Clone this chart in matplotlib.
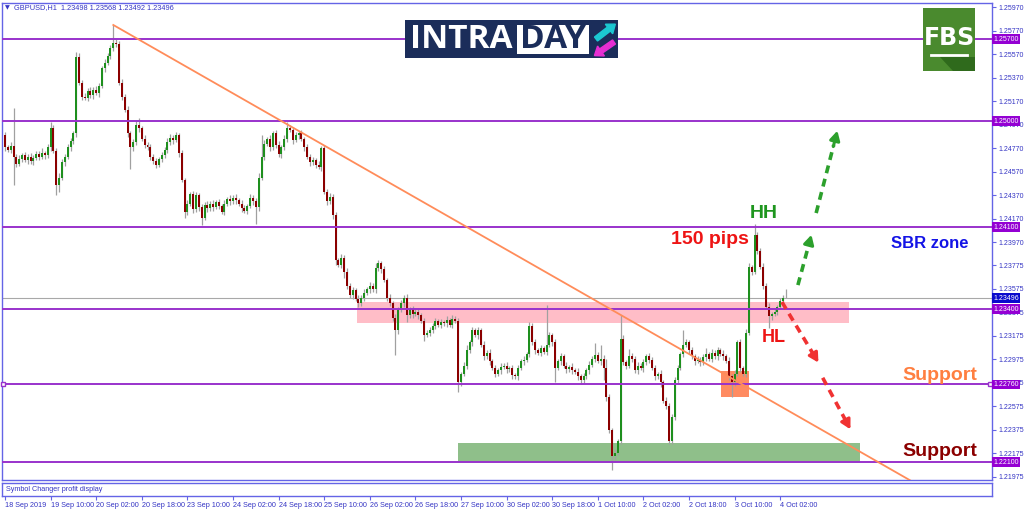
import matplotlib
matplotlib.use("Agg")
import matplotlib.pyplot as plt
import matplotlib.transforms as mtransforms
from matplotlib.patches import Rectangle, FancyArrow
import numpy as np

# GBPUSD H1 candles, 18 Sep 18:00 .. 4 Oct 04:00
first_open = 1.2488
closes = [
    1.2478, 1.2476, 1.2479, 1.2470, 1.2464, 1.2468, 1.2471, 1.2467, 1.2470, 1.2466, 1.2469, 1.2472, 1.2470,
    1.2473, 1.2471, 1.2478, 1.2494, 1.2475, 1.2446, 1.2452, 1.2465, 1.2470, 1.2478, 1.2483, 1.2490,
    1.2555, 1.2533, 1.2521, 1.2520, 1.2526, 1.2522, 1.2527, 1.2524, 1.2530, 1.2545, 1.2550, 1.2556, 1.2562,
    1.2567, 1.2566, 1.2533, 1.2521, 1.2510, 1.2490, 1.2478, 1.2482, 1.2497, 1.2494, 1.2485, 1.2480,
    1.2478, 1.2470, 1.2466, 1.2463, 1.2468, 1.2471, 1.2476, 1.2482, 1.2486, 1.2484, 1.2488, 1.2473, 1.2450,
    1.2423, 1.2430, 1.2438, 1.2425, 1.2437, 1.2427, 1.2418, 1.2429, 1.2426, 1.2430, 1.2427, 1.2431,
    1.2428, 1.2423, 1.2430, 1.2434, 1.2432, 1.2435, 1.2433, 1.2430, 1.2426, 1.2424, 1.2428, 1.2435, 1.2432,
    1.2427, 1.2452, 1.2470, 1.2481, 1.2485, 1.2478, 1.2490, 1.2480, 1.2472, 1.2478, 1.2485, 1.2494,
    1.2493, 1.2484, 1.2488, 1.2490, 1.2485, 1.2478, 1.2470, 1.2465, 1.2467, 1.2463, 1.2461, 1.2477, 1.2440,
    1.2432, 1.2436, 1.2420, 1.2382, 1.2378, 1.2384, 1.2372, 1.2360, 1.2352, 1.2356, 1.2349, 1.2345,
    1.2350, 1.2354, 1.2357, 1.2360, 1.2357, 1.2375, 1.2379, 1.2374, 1.2365, 1.2350, 1.2345, 1.2333, 1.2322,
    1.2340, 1.2345, 1.2350, 1.2335, 1.2340, 1.2336, 1.2338, 1.2335, 1.2330, 1.2318, 1.2320, 1.2322,
    1.2326, 1.2330, 1.2327, 1.2329, 1.2328, 1.2331, 1.2327, 1.2332, 1.2330, 1.2278, 1.2285, 1.2292, 1.2305,
    1.2312, 1.2322, 1.2318, 1.2322, 1.2310, 1.2300, 1.2303, 1.2296, 1.2290, 1.2285, 1.2288, 1.2291,
    1.2292, 1.2289, 1.2290, 1.2284, 1.2283, 1.2290, 1.2296, 1.2297, 1.2302, 1.2326, 1.2312, 1.2305, 1.2303,
    1.2307, 1.2304, 1.2310, 1.2318, 1.2312, 1.2290, 1.2296, 1.2300, 1.2292, 1.2289, 1.2291, 1.2288,
    1.2287, 1.2283, 1.2280, 1.2283, 1.2288, 1.2293, 1.2298, 1.2301, 1.2296, 1.2298, 1.2290, 1.2265, 1.2237,
    1.2215, 1.2218, 1.2228, 1.2315, 1.2295, 1.2292, 1.2300, 1.2298, 1.2288, 1.2292, 1.2290, 1.2295,
    1.2300, 1.2297, 1.2290, 1.2283, 1.2285, 1.2278, 1.2262, 1.2258, 1.2228, 1.2248, 1.2280, 1.2290, 1.2302,
    1.2310, 1.2312, 1.2305, 1.2300, 1.2296, 1.2297, 1.2295, 1.2299, 1.2302, 1.2298, 1.2303, 1.2300,
    1.2305, 1.2302, 1.2300, 1.2296, 1.2283, 1.2278, 1.2285, 1.2312, 1.2290, 1.2285, 1.2320, 1.2376, 1.2372,
    1.2403, 1.2390, 1.2376, 1.2360, 1.2342, 1.2334, 1.2336, 1.2338, 1.2342, 1.2347, 1.2350, 1.23496,
]
# wick lengths above / below the body, in pips
up_wick = [
    3, 2, 3, 32, 2, 3, 2, 3, 2, 3, 2, 3, 3, 4, 2, 3, 5, 3, 2, 4, 3, 2, 3, 3, 2,
    4, 3, 2, 3, 2, 3, 2, 3, 3, 2, 3, 2, 3, 15, 3, 2, 3, 2, 3, 2, 3, 3, 6, 2, 3,
    2, 3, 2, 3, 2, 3, 2, 4, 3, 2, 3, 2, 3, 2, 3, 2, 3, 3, 2, 3, 2, 3, 2, 3, 2,
    3, 2, 3, 2, 3, 2, 3, 2, 3, 3, 2, 3, 2, 3, 4, 18, 3, 2, 3, 2, 3, 3, 2, 3, 5,
    3, 2, 3, 2, 3, 2, 3, 2, 3, 2, 3, 2, 3, 2, 3, 2, 3, 2, 3, 2, 3, 2, 3, 2, 3,
    2, 3, 2, 3, 2, 4, 3, 2, 3, 2, 3, 2, 3, 2, 3, 2, 3, 2, 3, 2, 3, 2, 3, 2, 3,
    2, 3, 2, 3, 2, 3, 2, 3, 2, 3, 2, 3, 5, 2, 3, 2, 3, 2, 3, 2, 3, 2, 3, 2, 3,
    2, 3, 2, 3, 2, 3, 2, 3, 2, 3, 2, 3, 2, 3, 2, 34, 3, 2, 3, 2, 3, 2, 3, 2, 3,
    2, 3, 2, 3, 2, 3, 2, 10, 3, 12, 3, 8, 3, 2, 3, 2, 20, 3, 2, 6, 3, 2, 3, 2, 3,
    2, 3, 2, 3, 2, 3, 2, 3, 2, 3, 2, 3, 2, 12, 3, 2, 3, 2, 3, 2, 3, 5, 2, 3, 2,
    3, 2, 3, 2, 3, 2, 3, 2, 3, 2, 3, 3, 2, 10, 3, 2, 3, 2, 3, 2, 3, 2, 3, 2, 7,
]
dn_wick = [
    3, 2, 3, 24, 3, 2, 3, 2, 3, 2, 3, 2, 3, 2, 3, 2, 3, 2, 9, 6, 2, 3, 2, 3, 2,
    3, 2, 3, 2, 3, 2, 3, 2, 3, 2, 3, 2, 3, 2, 3, 2, 3, 2, 3, 19, 3, 2, 3, 2, 3,
    2, 3, 2, 3, 2, 3, 2, 3, 2, 3, 2, 3, 2, 5, 3, 2, 3, 2, 3, 6, 2, 3, 2, 3, 2,
    3, 2, 3, 2, 3, 2, 3, 2, 3, 2, 3, 2, 3, 14, 3, 2, 3, 2, 3, 2, 3, 2, 3, 2, 3,
    2, 3, 2, 3, 2, 3, 2, 3, 2, 3, 2, 3, 2, 3, 2, 3, 4, 2, 3, 5, 3, 2, 3, 2, 3,
    2, 3, 2, 3, 2, 3, 2, 3, 2, 3, 2, 3, 21, 3, 2, 3, 6, 2, 3, 2, 3, 2, 5, 2, 3,
    2, 3, 2, 3, 2, 3, 2, 3, 2, 8, 3, 2, 3, 2, 3, 2, 3, 2, 3, 2, 3, 2, 3, 2, 3,
    2, 3, 2, 3, 2, 3, 2, 3, 2, 3, 2, 3, 2, 3, 2, 3, 2, 3, 12, 2, 3, 2, 3, 2, 3,
    2, 3, 4, 3, 2, 3, 2, 3, 2, 3, 10, 3, 2, 12, 3, 2, 3, 2, 3, 2, 3, 2, 3, 2, 3,
    2, 3, 2, 3, 2, 4, 2, 3, 3, 3, 2, 3, 2, 3, 2, 3, 2, 3, 2, 3, 2, 3, 2, 3, 2,
    3, 2, 3, 2, 3, 13, 3, 2, 3, 2, 3, 2, 3, 2, 3, 2, 3, 2, 10, 3, 2, 3, 2, 3, 0,
]

time_labels = ["18 Sep 2019", "19 Sep 10:00", "20 Sep 02:00", "20 Sep 18:00", "23 Sep 10:00",
               "24 Sep 02:00", "24 Sep 18:00", "25 Sep 10:00", "26 Sep 02:00", "26 Sep 18:00",
               "27 Sep 10:00", "30 Sep 02:00", "30 Sep 18:00", "1 Oct 10:00", "2 Oct 02:00",
               "2 Oct 18:00", "3 Oct 10:00", "4 Oct 02:00"]
time_step = 16

price_ticks = [1.25970, 1.25770, 1.25570, 1.25370, 1.25170, 1.24970, 1.24770, 1.24570, 1.24370,
               1.24170, 1.23970, 1.23775, 1.23575, 1.23375, 1.23175, 1.22975, 1.22775, 1.22575,
               1.22375, 1.22175, 1.21975]
levels = [1.25700, 1.25000, 1.24100, 1.23400, 1.22760, 1.22100]
last_price = 1.23496

trend_bars = [38, 346]
trend_prices = [1.2582, 1.2155]

sbr_zone = [123.5, 296.1, 1.23283, 1.23462]
support_zone = [159, 300, 1.22100, 1.22262]
pivot_box = [251.2, 261.1, 1.22653, 1.22874]

green_arrows = [[(278.2, 1.23606), (283.2, 1.24057)], [(284.6, 1.24219), (292.3, 1.24943)]]
red_arrows = [[(272.6, 1.23462), (285.9, 1.22926)], [(286.9, 1.22817), (297.1, 1.22357)]]

AXC = "#6464E6"
TXC = "#3434C4"
PURPLE = "#9932CC"

plt.rcParams["font.family"] = ["Liberation Sans", "DejaVu Sans"]

fig = plt.figure(figsize=(10.24, 5.11), dpi=100)
W, H = 1024, 511
ax = fig.add_axes([2 / W, 1 - 480 / H, 990 / W, 477 / H])
sub = fig.add_axes([2 / W, 1 - 496 / H, 990 / W, 13 / H], sharex=ax)

n = len(closes)
x = np.arange(n)
c = np.array(closes)
o = np.array([first_open] + closes[:-1])
hi = np.maximum(o, c) + np.array(up_wick) * 1e-4
lo = np.minimum(o, c) - np.array(dn_wick) * 1e-4

# zones behind the candles
for z, col, a in [(sbr_zone, "#FFB6C1", 0.9), (support_zone, "#8FBF8A", 1.0), (pivot_box, "#FF7F50", 0.9)]:
    ax.add_patch(Rectangle((z[0], z[2]), z[1] - z[0], z[3] - z[2], fc=col, ec="none", alpha=a, zorder=1))

ax.vlines(x, lo, hi, color="#A0A0A0", lw=0.9, zorder=2)
up = c >= o
body_h = np.maximum(np.abs(c - o), 0.00004)
ax.bar(x[up], body_h[up], bottom=np.minimum(o, c)[up], width=0.7, color="#1E8F1E", zorder=3)
ax.bar(x[~up], body_h[~up], bottom=np.minimum(o, c)[~up], width=0.7, color="#8B0000", zorder=3)

ax.axhline(last_price, color="#A8A8A8", lw=0.8, zorder=2)
for lv in levels:
    ax.axhline(lv, color=PURPLE, lw=1.4, zorder=4)
ax.plot([-0.6, 345.6], [levels[4], levels[4]], ls="none", marker="s", ms=3, mfc="white", mec=PURPLE, zorder=5, clip_on=False)

ax.plot(trend_bars, trend_prices, color="#FF8C5A", lw=1.3, zorder=4)


def dashed_arrow(p0, p1, color):
    (x0, y0), (x1, y1) = p0, p1
    ax.plot([x0, x0 + (x1 - x0) * 0.8], [y0, y0 + (y1 - y0) * 0.8], color=color, lw=2.6,
            ls=(0, (2.2, 1.6)), zorder=6, solid_capstyle="butt")
    ax.annotate("", xy=(x1, y1), xytext=(x0 + (x1 - x0) * 0.75, y0 + (y1 - y0) * 0.75),
                arrowprops=dict(arrowstyle="-|>,head_width=0.3,head_length=0.55", color=color, lw=2.2),
                zorder=6)


for p0, p1 in green_arrows:
    dashed_arrow(p0, p1, "#2CA02C")
for p0, p1 in red_arrows:
    dashed_arrow(p0, p1, "#F03232")

ax.set_xlim(-1.05, 346.3)
ax.set_ylim(1.21947, 1.26007)

for a in (ax, sub):
    for s in a.spines.values():
        s.set_color(AXC)
        s.set_linewidth(1)
ax.set_yticks(price_ticks)
ax.set_yticklabels(["%.5f" % p for p in price_ticks])
ax.yaxis.tick_right()
ax.tick_params(axis="y", colors=AXC, labelcolor=TXC, labelsize=5.0, length=3, width=0.8, pad=1.5)
ax.tick_params(axis="x", bottom=False, labelbottom=False)

# price labels on the right scale
trans = mtransforms.blended_transform_factory(ax.transAxes, ax.transData)
for lv in levels:
    ax.text(1.001, lv, "%.5f" % lv, transform=trans, ha="left", va="center", fontsize=5.0, color="white",
            bbox=dict(boxstyle="square,pad=0.2", fc="#9400D3", ec="none"), zorder=10, clip_on=False)
ax.text(1.001, last_price, "%.5f" % last_price, transform=trans, ha="left", va="center", fontsize=5.0,
        color="white", bbox=dict(boxstyle="square,pad=0.2", fc="#0A0ACD", ec="none"), zorder=10, clip_on=False)

sub.set_yticks([])
sub.set_xticks(np.arange(len(time_labels)) * time_step)
sub.set_xticklabels(time_labels, ha="left")
sub.tick_params(axis="x", colors=AXC, labelcolor=TXC, labelsize=5.2, length=3, width=0.8, pad=1.5)
sub.text(0.004, 0.5, "Symbol Changer profit display", transform=sub.transAxes, fontsize=5.2,
         color=TXC, va="center")

# overlay in pixel coordinates for logos and notes
ov = fig.add_axes([0, 0, 1, 1], zorder=20)
ov.set_xlim(0, W)
ov.set_ylim(H, 0)
ov.axis("off")
ov.patch.set_alpha(0)

ov.text(5, 7.5, "▼", fontsize=4.5, color=TXC, va="center", family="DejaVu Sans")
ov.text(14, 7.5, "GBPUSD,H1  1.23498 1.23568 1.23492 1.23496", fontsize=5.3, color=TXC, va="center")

# INTRADAY logo
ov.add_patch(Rectangle((405, 20), 213, 38, fc="#1B2D5A", ec="none"))
ov.text(410, 40, "INTRA", color="white", fontsize=24, fontweight="bold", va="center", ha="left",
        family="Open Sans")
ov.add_patch(Rectangle((517, 25), 72, 29, fc="white", ec="none"))
ov.text(553, 40, "DAY", color="#1B2D5A", fontsize=24, fontweight="bold", va="center", ha="center",
        family="Open Sans")
ov.add_patch(FancyArrow(596, 39, 13, -10, width=5, head_width=12, head_length=8, color="#1CC8D2",
                        length_includes_head=False))
ov.add_patch(FancyArrow(614, 42, -13, 9, width=5, head_width=12, head_length=8, color="#E62ED2",
                        length_includes_head=False))

# FBS logo
ov.add_patch(Rectangle((923, 8), 52, 63, fc="#4A8A2E", ec="none"))
ov.add_patch(plt.Polygon([[940, 57], [975, 57], [975, 71], [953, 71]], fc="#2F6A1C", ec="none"))
ov.text(949, 38, "FBS", color="white", fontsize=17, fontweight="bold", ha="center", va="center",
        family="Liberation Sans Narrow")
ov.plot([931, 967], [55, 55], color="white", lw=2)

# annotations
ov.text(764, 214, "HH", color="#1E961E", fontsize=14, fontweight="bold", ha="center", va="center")
ov.text(710, 240, "150 pips", color="#EE1414", fontsize=14, fontweight="bold", ha="center", va="center")
ov.text(930, 244, "SBR zone", color="#1414E6", fontsize=12, fontweight="bold", ha="center", va="center")
ov.text(774, 337, "HL", color="#EE1414", fontsize=13, fontweight="bold", ha="center", va="center")
ov.text(940, 375, "Support", color="#FF7F40", fontsize=14, fontweight="bold", ha="center", va="center")
ov.text(940, 451, "Support", color="#8B0000", fontsize=14, fontweight="bold", ha="center", va="center")

fig.savefig("out.png", dpi=100)
